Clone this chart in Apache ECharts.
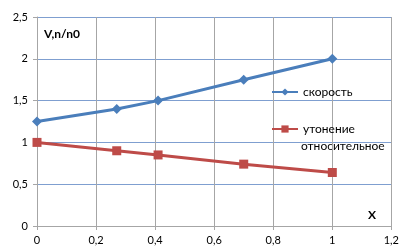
<!DOCTYPE html>
<html>
<head>
<meta charset="utf-8">
<script src="https://cdn.jsdelivr.net/npm/echarts@6/dist/echarts.min.js"></script>
<style>
  html, body { margin: 0; padding: 0; background: #fff; }
  #chart { width: 402px; height: 249px; }
</style>
</head>
<body>
<div id="chart"></div>
<script>
  // данные
  var xValues = [0, 0.27, 0.41, 0.7, 1];
  var speed = [1.25, 1.4, 1.5, 1.75, 2];
  var thinning = [1, 0.9, 0.85, 0.74, 0.64];
  var speedName = 'скорость';
  var thinningName = 'утонение относительное';

  function pairs(xs, ys) {
    return xs.map(function (x, i) { return [x, ys[i]]; });
  }
  function comma(v) {
    return String(Math.round(v * 10) / 10).replace('.', ',');
  }

  var chart = echarts.init(document.getElementById('chart'));
  var font = 'Lato, "Liberation Sans", sans-serif';

  var option = {
    animation: false,
    textStyle: { fontFamily: font },
    grid: { left: 37, right: 8, top: 17, bottom: 23 },
    legend: {
      orient: 'vertical',
      left: 271,
      top: 86,
      padding: 0,
      itemWidth: 26,
      itemHeight: 9,
      itemGap: 25,
      textStyle: { fontSize: 12, color: '#000', fontFamily: font },
      formatter: function (name) {
        // вторая строка подписи рисуется отдельно, под первой
        return name === thinningName ? 'утонение' : name;
      },
      data: [speedName, thinningName]
    },
    xAxis: {
      type: 'value',
      min: 0, max: 1.2, interval: 0.2,
      axisLine: { show: true, lineStyle: { color: '#a6a6a6' } },
      axisTick: { show: true, length: 4, lineStyle: { color: '#a6a6a6' } },
      splitLine: { show: true, lineStyle: { color: '#a6a6a6' } },
      axisLabel: { formatter: comma, color: '#000', fontSize: 11, margin: 9 }
    },
    yAxis: {
      type: 'value',
      min: 0, max: 2.5, interval: 0.5,
      axisLine: { show: true, lineStyle: { color: '#a6a6a6' } },
      axisTick: { show: true, length: 4, lineStyle: { color: '#a6a6a6' } },
      splitLine: { show: true, lineStyle: { color: '#7f9fd0' } },
      axisLabel: { formatter: comma, color: '#000', fontSize: 11, margin: 9 }
    },
    graphic: [
      { type: 'text', left: 44, top: 28, style: { text: 'V,n/n0', font: 'bold 12px ' + font, fill: '#000' } },
      { type: 'text', left: 368, top: 209, style: { text: 'X', font: 'bold 12px ' + font, fill: '#000' } },
      { type: 'text', left: 301, top: 140, style: { text: 'относительное', font: '12px ' + font, fill: '#000' } }
    ],
    series: [
      {
        name: speedName,
        type: 'line',
        data: pairs(xValues, speed),
        symbol: 'diamond',
        symbolSize: 10,
        lineStyle: { color: '#4a7ebb', width: 3 },
        itemStyle: { color: '#4a7ebb' }
      },
      {
        name: thinningName,
        type: 'line',
        data: pairs(xValues, thinning),
        symbol: 'rect',
        symbolSize: 9,
        lineStyle: { color: '#be4b48', width: 3 },
        itemStyle: { color: '#be4b48' }
      }
    ]
  };
  chart.setOption(option);
</script>
</body>
</html>
